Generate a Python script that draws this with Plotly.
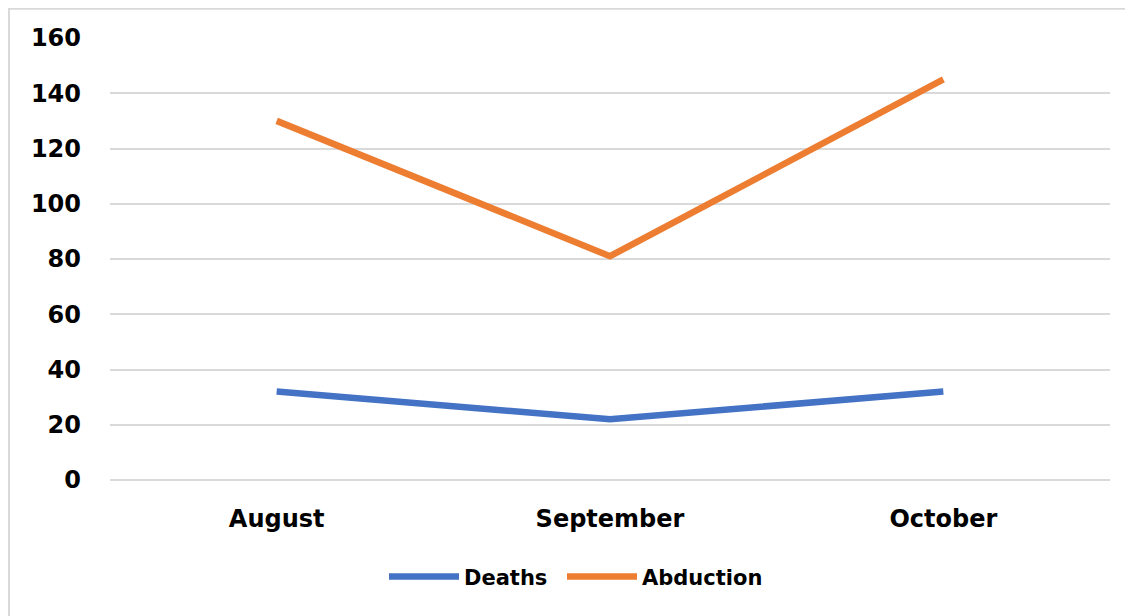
import plotly.graph_objects as go

# data
months = ['August', 'September', 'October']
deaths = [32, 22, 32]
abduction = [130, 81, 145]

fig = go.Figure()
fig.add_trace(go.Scatter(x=months, y=deaths, mode='lines', name='Deaths',
                         line=dict(color='#4472C4', width=6.5), legend='legend'))
fig.add_trace(go.Scatter(x=months, y=abduction, mode='lines', name='Abduction',
                         line=dict(color='#ED7D31', width=6.5), legend='legend2'))

# outer chart frame (left/top edge of the chart area)
fig.add_shape(type='rect', xref='paper', yref='paper',
              x0=-0.101, x1=1.05, y0=-0.35, y1=1.066,
              line=dict(color='#D9D9D9', width=2), layer='below')

leg = dict(orientation='h', y=-0.219, xanchor='left', yanchor='middle', itemwidth=70,
           font=dict(size=21, family='DejaVu Sans', weight='bold'))

fig.update_layout(
    width=1125, height=608,
    margin=dict(l=102, r=23, t=30, b=136),
    paper_bgcolor='white', plot_bgcolor='white',
    font=dict(family='DejaVu Sans', size=24, color='#000000'),
    showlegend=True,
    legend=dict(leg, x=0.274),
    legend2=dict(leg, x=0.452),
    xaxis=dict(range=[-0.5, 2.5], showgrid=False, zeroline=False, showline=False,
               tickfont=dict(family='DejaVu Sans', size=24, weight='bold'),
               ticklabelstandoff=22),
    yaxis=dict(range=[0, 160], dtick=20, showgrid=True, gridcolor='#D9D9D9', gridwidth=2,
               zeroline=True, zerolinecolor='#D9D9D9', zerolinewidth=2, showline=False,
               tickfont=dict(family='DejaVu Sans', size=24, weight='bold'),
               ticklabelstandoff=28),
)

fig.write_html('out.html')
